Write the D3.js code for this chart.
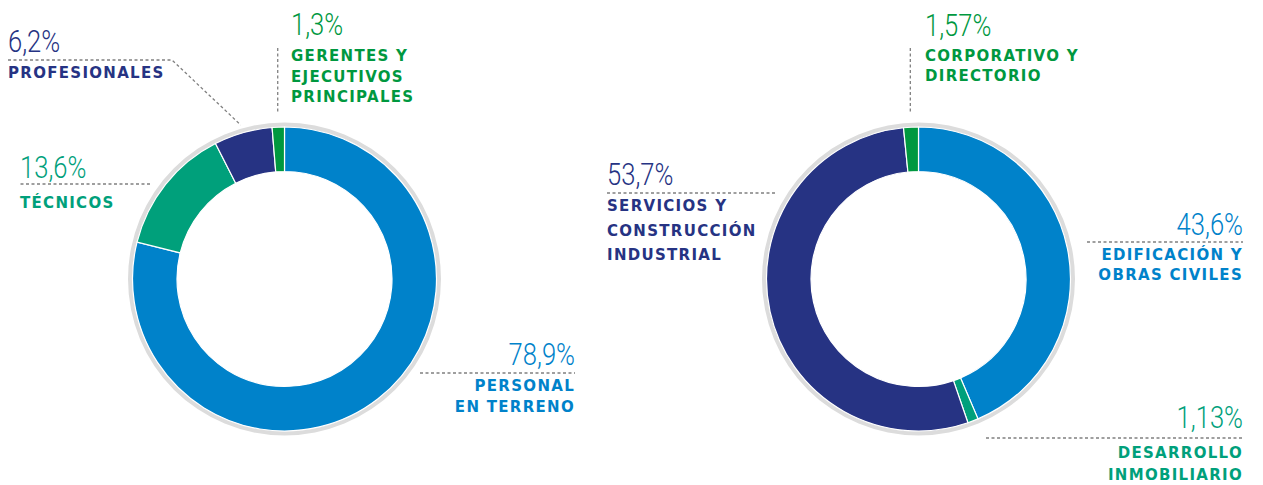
<!DOCTYPE html>
<html>
<head>
<meta charset="utf-8">
<script src="https://cdn.jsdelivr.net/npm/d3@7"></script>
<style>
  html, body { margin: 0; padding: 0; background: #fff; }
  svg { display: block; }
  .num { font-family: Roboto, sans-serif; font-weight: 300; font-size: 32px; }
  .lbl { font-family: "DejaVu Sans", sans-serif; font-weight: bold; font-size: 15px; letter-spacing: 1.3px; }
  .rule { fill: none; stroke: #808080; stroke-width: 1.3; stroke-dasharray: 3 2.5; }
</style>
</head>
<body>
<svg id="chart" width="1263" height="485"></svg>
<script>
// data: personal por categoria (izquierda)
var personalCategories = ["PERSONAL EN TERRENO", "TÉCNICOS", "PROFESIONALES", "GERENTES Y EJECUTIVOS PRINCIPALES"];
var personalLines = [["PERSONAL", "EN TERRENO"], ["TÉCNICOS"], ["PROFESIONALES"], ["GERENTES Y", "EJECUTIVOS", "PRINCIPALES"]];
var personalValues = [78.9, 13.6, 6.2, 1.3];
var personalColors = ["#0082ca", "#00a07b", "#263383", "#00983f"];

// data: personal por area de negocio (derecha)
var areaCategories = ["EDIFICACIÓN Y OBRAS CIVILES", "DESARROLLO INMOBILIARIO", "SERVICIOS Y CONSTRUCCIÓN INDUSTRIAL", "CORPORATIVO Y DIRECTORIO"];
var areaLines = [["EDIFICACIÓN Y", "OBRAS CIVILES"], ["DESARROLLO", "INMOBILIARIO"], ["SERVICIOS Y", "CONSTRUCCIÓN", "INDUSTRIAL"], ["CORPORATIVO Y", "DIRECTORIO"]];
var areaValues = [43.6, 1.13, 53.7, 1.57];
var areaColors = ["#0082ca", "#00a07b", "#263383", "#00983f"];

// label layout (type: h = underline only, elbow = underline + diagonal, v = vertical line to slice)
var personalLayout = [
  {type: "h", anchor: "end", x: 575, numY: 365, ruleY: 373, ruleX0: 420, lineY: 391, lh: 21},
  {type: "h", anchor: "start", x: 20, numY: 178, ruleY: 184, ruleX0: 150, lineY: 208, lh: 21},
  {type: "elbow", anchor: "start", x: 8, numY: 52, ruleY: 60, ruleX0: 172, lineY: 78, lh: 21, r: 160},
  {type: "v", anchor: "start", x: 291, numY: 35, ruleY: 48, lineY: 61, lh: 20.5, r: 166}
];
var areaLayout = [
  {type: "h", anchor: "end", x: 1243, numY: 235, ruleY: 242, ruleX0: 1087, lineY: 260, lh: 20},
  {type: "h", anchor: "end", x: 1243, numY: 428, ruleY: 438, ruleX0: 986, lineY: 458, lh: 22},
  {type: "h", anchor: "start", x: 607, numY: 185, ruleY: 193, ruleX0: 775, lineY: 211, lh: 24.5},
  {type: "v", anchor: "start", x: 925, numY: 36, ruleY: 48, lineY: 61, lh: 20, r: 166}
];

var svg = d3.select("#chart");

function fmt(v) { return String(v).replace(".", ",") + "%"; }

function donut(cx, cy, values, lines, colors, layout) {
  var g = svg.append("g").attr("transform", "translate(" + cx + "," + cy + ")");

  var pie = d3.pie().sort(null).value(function(d) { return d; });
  var arcs = pie(values);

  // gray halo ring
  g.append("path")
    .attr("d", d3.arc().innerRadius(140).outerRadius(156.5).startAngle(0).endAngle(2 * Math.PI)())
    .attr("fill", "#dcdcdc");

  var arc = d3.arc().innerRadius(107.5).outerRadius(152);
  g.selectAll("path.slice")
    .data(arcs)
    .enter().append("path")
    .attr("class", "slice")
    .attr("d", arc)
    .attr("fill", function(d, i) { return colors[i]; })
    .attr("stroke", "#fff")
    .attr("stroke-width", 1.2);

  arcs.forEach(function(a, i) {
    var L = layout[i], col = colors[i];

    // leader / rule
    if (L.type == "h") {
      svg.append("line").attr("class", "rule")
        .attr("x1", L.ruleX0).attr("x2", L.x)
        .attr("y1", L.ruleY).attr("y2", L.ruleY);
    } else {
      var p = d3.arc().innerRadius(L.r).outerRadius(L.r).centroid(a);
      var px = cx + p[0], py = cy + p[1];
      if (L.type == "elbow") {
        svg.append("path").attr("class", "rule")
          .attr("d", "M" + L.x + "," + L.ruleY + "H" + L.ruleX0 + "L" + px + "," + py);
      } else {
        svg.append("line").attr("class", "rule")
          .attr("x1", px).attr("x2", px)
          .attr("y1", L.ruleY).attr("y2", py);
      }
    }

    // big percentage
    svg.append("text").attr("class", "num")
      .attr("transform", "translate(" + L.x + "," + L.numY + ") scale(0.8,1)")
      .attr("text-anchor", L.anchor)
      .attr("fill", col)
      .text(fmt(values[i]));

    // category label
    lines[i].forEach(function(t, j) {
      svg.append("text").attr("class", "lbl")
        .attr("x", L.x)
        .attr("y", L.lineY + j * L.lh)
        .attr("text-anchor", L.anchor)
        .attr("fill", col)
        .text(t);
    });
  });
}

donut(284.5, 279, personalValues, personalLines, personalColors, personalLayout);
donut(918.5, 279, areaValues, areaLines, areaColors, areaLayout);
</script>
</body>
</html>
